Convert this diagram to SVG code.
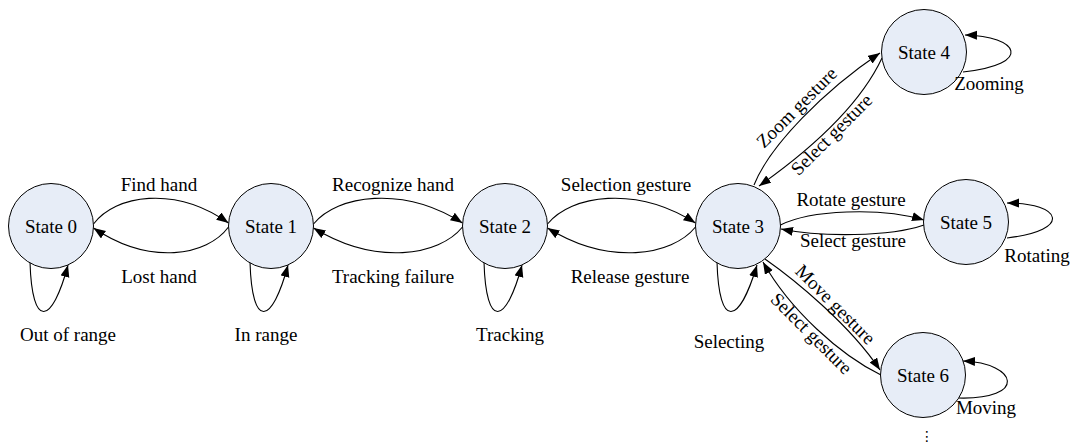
<svg xmlns="http://www.w3.org/2000/svg" width="1074" height="446" viewBox="0 0 1074 446">
<style>
.st{fill:#E7EDF7;stroke:#000;stroke-width:1}
.c{fill:none;stroke:#000;stroke-width:1.1;marker-end:url(#ah)}
text{font-family:"Liberation Serif","Times New Roman",serif;font-size:19px;fill:#000}
.m{text-anchor:middle}
</style>
<defs>
<marker id="ah" markerUnits="userSpaceOnUse" markerWidth="13" markerHeight="10" refX="12" refY="4.5" orient="auto">
<path d="M0,0 L12,4.5 L0,9 z" fill="#000"/>
</marker>
</defs>
<rect width="1074" height="446" fill="#fff"/>
<g id="connectors">
<path class="c" d="M93.5,224 C115,195 175,185 228.5,223"/>
<path class="c" d="M228.5,227 C207,256 150,266 93.5,228"/>
<path class="c" d="M313.5,224 C337,195 403,185 462.5,223"/>
<path class="c" d="M462.5,227 C439,256 376,266 313.5,228"/>
<path class="c" d="M547.5,224 C571,195 636,185 695.5,223"/>
<path class="c" d="M695.5,227 C672,256 609,266 547.5,228"/>
<path class="c" d="M780.5,225 C810,210 880,207 924,220"/>
<path class="c" d="M924,225 C890,237 820,237 781,229"/>
<path class="c" d="M754,185 C770,145 825,90 880,53"/>
<path class="c" d="M882,58 C860,105 810,150 759,186"/>
<path class="c" d="M765,259 C795,280 850,325 880,370"/>
<path class="c" d="M881,375 C840,355 790,310 763,262"/>
<path class="c" d="M30,262 C32,330 52,325 68,265"/>
<path class="c" d="M250,262 C252,330 272,325 288,265"/>
<path class="c" d="M484,262 C486,330 506,325 522,265"/>
<path class="c" d="M717,262 C719,330 739,325 757,265"/>
<path class="c" d="M963,72 C1035,64 1018,36 965,35"/>
<path class="c" d="M1007,238 C1073,230 1062,203 1007,203"/>
<path class="c" d="M958,398 C1028,400 1018,363 963,361"/>
</g>
<g id="state0"><circle class="st" cx="51" cy="226" r="42.5"/><text class="m" x="51" y="233">State 0</text></g>
<g id="state1"><circle class="st" cx="271" cy="226" r="42.5"/><text class="m" x="271" y="233">State 1</text></g>
<g id="state2"><circle class="st" cx="505" cy="226" r="42.5"/><text class="m" x="505" y="233">State 2</text></g>
<g id="state3"><circle class="st" cx="738" cy="226" r="42.5"/><text class="m" x="738" y="233">State 3</text></g>
<g id="state4"><circle class="st" cx="924" cy="52" r="42.5"/><text class="m" x="924" y="59">State 4</text></g>
<g id="state5"><circle class="st" cx="966" cy="222" r="42.5"/><text class="m" x="966" y="229">State 5</text></g>
<g id="state6"><circle class="st" cx="923" cy="375" r="42.5"/><text class="m" x="923" y="382">State 6</text></g>
<g id="labels">
<text class="m" x="159" y="191">Find hand</text>
<text class="m" x="159" y="283">Lost hand</text>
<text class="m" x="68" y="341">Out of range</text>
<text class="m" x="266" y="341">In range</text>
<text class="m" x="393" y="191">Recognize hand</text>
<text class="m" x="393" y="283">Tracking failure</text>
<text class="m" x="510" y="341">Tracking</text>
<text class="m" x="626" y="191">Selection gesture</text>
<text class="m" x="630" y="283">Release gesture</text>
<text class="m" x="729" y="348">Selecting</text>
<text class="m" x="851" y="206">Rotate gesture</text>
<text class="m" x="853" y="247">Select gesture</text>
<text class="m" x="1037" y="262">Rotating</text>
<text class="m" x="989" y="90">Zooming</text>
<text class="m" x="986" y="414">Moving</text>
<text class="m" transform="translate(801,112) rotate(-45)">Zoom gesture</text>
<text class="m" transform="translate(836,139) rotate(-45)">Select gesture</text>
<text class="m" transform="translate(831,309) rotate(45)">Move gesture</text>
<text class="m" transform="translate(807,338) rotate(45)">Select gesture</text>
<text class="m" x="927" y="441" style="font-family:'DejaVu Sans',sans-serif;font-size:14px">⋮</text>
</g>
</svg>
